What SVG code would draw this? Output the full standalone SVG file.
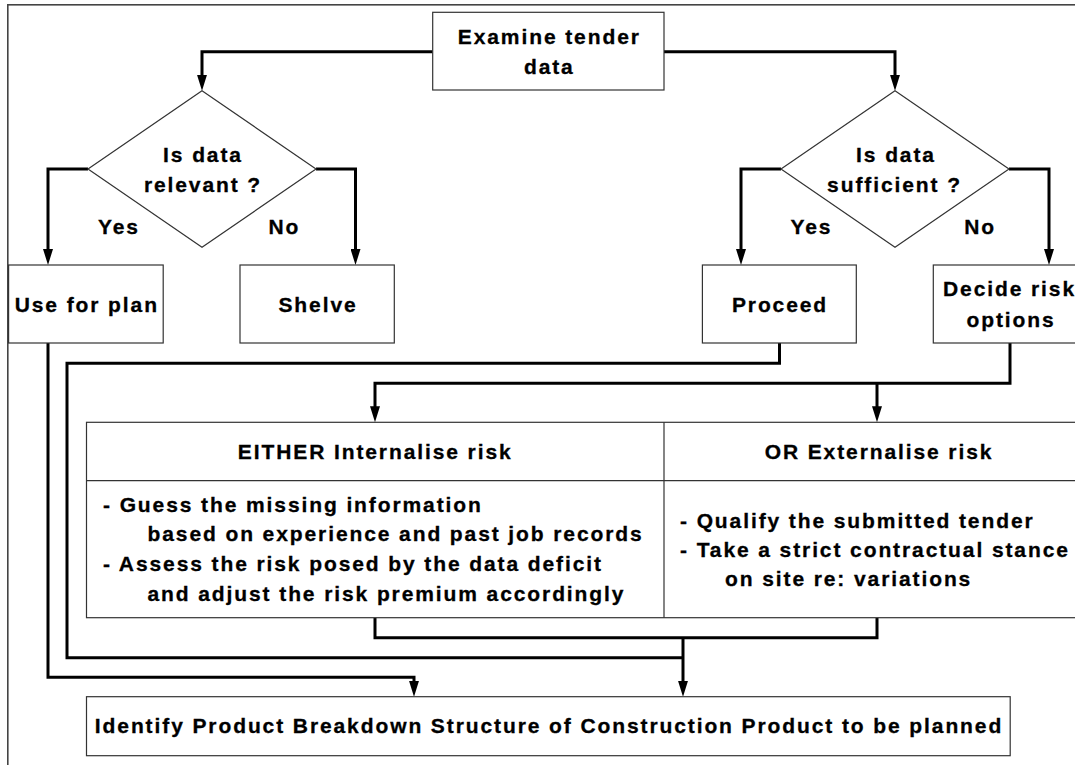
<svg xmlns="http://www.w3.org/2000/svg" width="1075" height="765" viewBox="0 0 1075 765">
  <defs>
    <marker id="arrow" viewBox="0 0 16 10" refX="8" refY="5" markerWidth="16" markerHeight="10" markerUnits="userSpaceOnUse" orient="auto">
      <path d="M0,0 L16,5 L0,10 Z" fill="#000"/>
    </marker>
    <style>
      .box { fill: #fff; stroke: #333; stroke-width: 1.2; }
      .frame { fill: none; stroke: #444; stroke-width: 1.6; }
      .conn { fill: none; stroke: #000; stroke-width: 3; stroke-linejoin: miter; stroke-linecap: butt; }
      .arr { marker-end: url(#arrow); }
      text { font-family: "Liberation Sans", Arial, Helvetica, sans-serif; font-weight: bold; font-size: 21px; letter-spacing: 1.9px; fill: #000; stroke: #000; stroke-width: 0.3; }
      .c { text-anchor: middle; }
    </style>
  </defs>

  <rect width="1075" height="765" fill="#fff"/>
  <!-- page frame -->
  <rect class="frame" x="7.8" y="4.8" width="1100" height="800"/>

  <!-- connectors -->
  <g id="connectors">
    <path class="conn arr" d="M432.7,51.7 H202 V82.7"/>
    <path class="conn arr" d="M664,51.7 H895 V82.7"/>
    <path class="conn arr" d="M88,169 H48 V257"/>
    <path class="conn arr" d="M316,169 H355.5 V257"/>
    <path class="conn arr" d="M781,169 H741 V257"/>
    <path class="conn arr" d="M1009,169 H1049 V257"/>
    <path class="conn arr" d="M48,343 V677.3 H414 V688.7"/>
    <path class="conn" d="M779.5,343 V363.3 H67 V657.7 H683"/>
    <path class="conn arr" d="M1010,343 V383.3 H375 V414.3"/>
    <path class="conn arr" d="M877,383.3 V414.3"/>
    <path class="conn" d="M375,617.7 V637.7 H877 V617.7"/>
    <path class="conn arr" d="M683,637.7 V688.7"/>
  </g>

  <g id="examine">
    <rect class="box" x="432.7" y="12.3" width="231.3" height="77.7"/>
    <text class="c" x="549.3" y="43.5">Examine tender</text>
    <text class="c" x="549.3" y="73.5">data</text>
  </g>

  <g id="relevant">
    <polygon class="box" points="202,90.7 316,169 202,247.3 88,169"/>
    <text class="c" x="203" y="162">Is data</text>
    <text class="c" x="203" y="192">relevant ?</text>
  </g>

  <g id="sufficient">
    <polygon class="box" points="895,90.7 1009,169 895,247.3 781,169"/>
    <text class="c" x="896" y="162">Is data</text>
    <text class="c" x="894.5" y="192">sufficient ?</text>
  </g>

  <g id="labels">
    <text class="c" x="119" y="233.5">Yes</text>
    <text class="c" x="284.4" y="233.5">No</text>
    <text class="c" x="811.5" y="233.5">Yes</text>
    <text class="c" x="980.2" y="233.5">No</text>
  </g>

  <g id="use-for-plan">
    <rect class="box" x="8.6" y="265" width="154.6" height="78"/>
    <text class="c" x="86.8" y="311.7">Use for plan</text>
  </g>

  <g id="shelve">
    <rect class="box" x="240" y="265" width="154.3" height="78"/>
    <text class="c" x="318" y="311.7">Shelve</text>
  </g>

  <g id="proceed">
    <rect class="box" x="702.4" y="265" width="153.9" height="78"/>
    <text class="c" x="780" y="311.7">Proceed</text>
  </g>

  <g id="decide">
    <rect class="box" x="933.3" y="265" width="154" height="78"/>
    <text x="943" y="296">Decide risk</text>
    <text class="c" x="1011" y="326.7">options</text>
  </g>

  <g id="risk-options">
    <rect class="box" x="86.5" y="422.3" width="1020" height="195.4"/>
    <line class="box" x1="86.5" y1="480.7" x2="1106.5" y2="480.7"/>
    <line class="box" x1="664" y1="422.3" x2="664" y2="617.7"/>
    <text class="c" x="375.2" y="459.2">EITHER Internalise risk</text>
    <text class="c" x="879" y="459.2">OR Externalise risk</text>
    <text x="103" y="511.7">- Guess the missing information</text>
    <text x="147.5" y="541.4">based on experience and past job records</text>
    <text x="103" y="571.1">- Assess the risk posed by the data deficit</text>
    <text x="147.5" y="600.8">and adjust the risk premium accordingly</text>
    <text x="680" y="527.6">- Qualify the submitted tender</text>
    <text x="680" y="556.6">- Take a strict contractual stance</text>
    <text x="725" y="585.6">on site re: variations</text>
  </g>

  <g id="product-breakdown">
    <rect class="box" x="86.5" y="696.7" width="923.7" height="59"/>
    <text class="c" x="549" y="733.3">Identify Product Breakdown Structure of Construction Product to be planned</text>
  </g>
</svg>
